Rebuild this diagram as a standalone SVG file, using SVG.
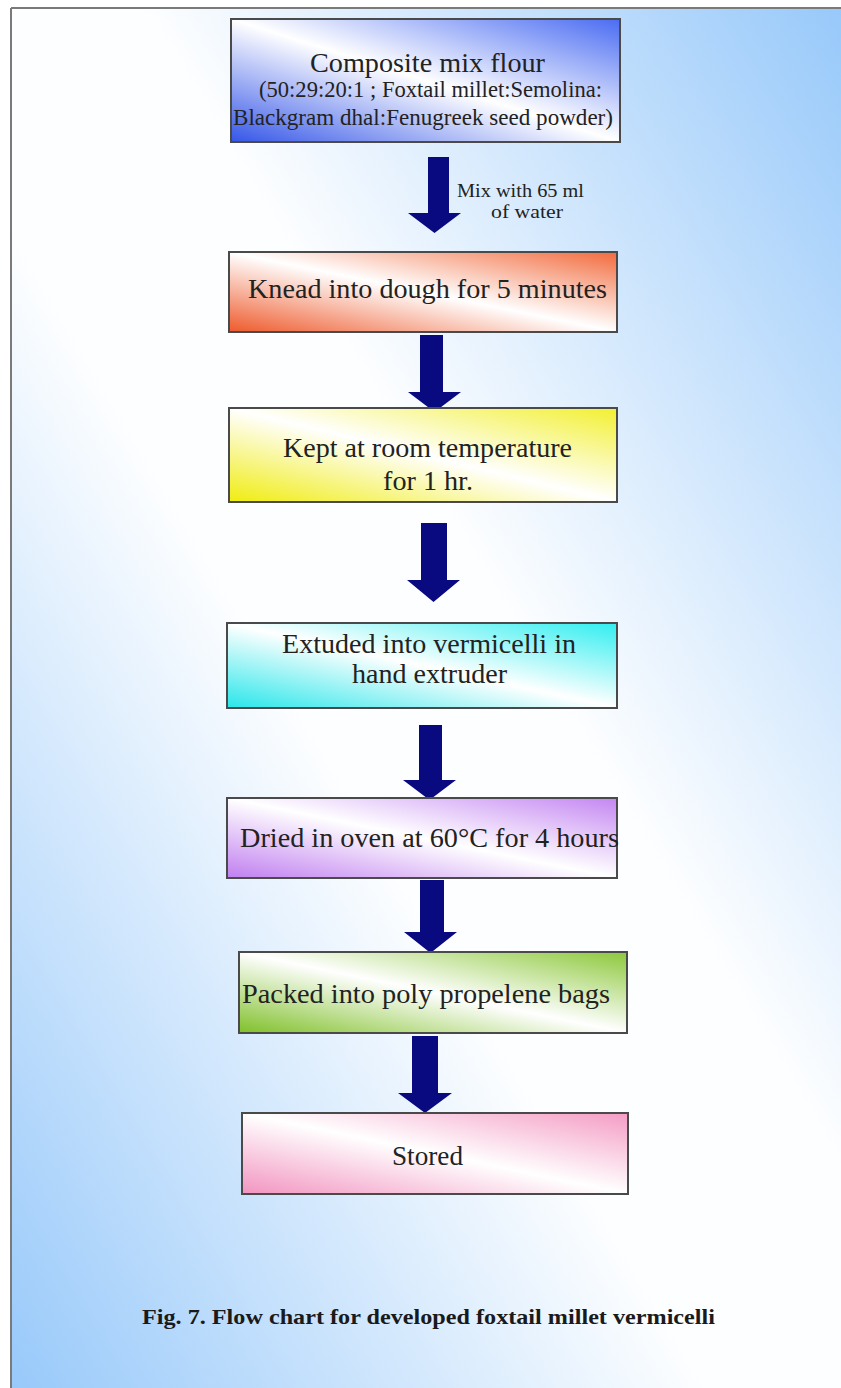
<svg xmlns="http://www.w3.org/2000/svg" width="841" height="1388" viewBox="0 0 841 1388">
<defs>
<linearGradient id="bg" x1="1" y1="0" x2="0" y2="1">
<stop offset="0" stop-color="#98c9fa"/>
<stop offset="0.42" stop-color="#fdfeff"/>
<stop offset="0.58" stop-color="#fdfeff"/>
<stop offset="1" stop-color="#98c9fa"/>
</linearGradient>
<linearGradient id="gBlue" x1="1" y1="0" x2="0" y2="1">
<stop offset="0" stop-color="#4a6cf2"/><stop offset="0.5" stop-color="#ffffff"/><stop offset="1" stop-color="#3556e8"/>
</linearGradient>
<linearGradient id="gOrange" x1="1" y1="0" x2="0" y2="1">
<stop offset="0" stop-color="#f26a3c"/><stop offset="0.5" stop-color="#ffffff"/><stop offset="1" stop-color="#ee5a2c"/>
</linearGradient>
<linearGradient id="gYellow" x1="1" y1="0" x2="0" y2="1">
<stop offset="0" stop-color="#f2f030"/><stop offset="0.5" stop-color="#ffffff"/><stop offset="1" stop-color="#f0ec10"/>
</linearGradient>
<linearGradient id="gCyan" x1="1" y1="0" x2="0" y2="1">
<stop offset="0" stop-color="#30eef0"/><stop offset="0.5" stop-color="#ffffff"/><stop offset="1" stop-color="#28e6ea"/>
</linearGradient>
<linearGradient id="gPurple" x1="1" y1="0" x2="0" y2="1">
<stop offset="0" stop-color="#c486f2"/><stop offset="0.5" stop-color="#ffffff"/><stop offset="1" stop-color="#c07ef0"/>
</linearGradient>
<linearGradient id="gGreen" x1="1" y1="0" x2="0" y2="1">
<stop offset="0" stop-color="#8cc83a"/><stop offset="0.5" stop-color="#ffffff"/><stop offset="1" stop-color="#80c02a"/>
</linearGradient>
<linearGradient id="gPink" x1="1" y1="0" x2="0" y2="1">
<stop offset="0" stop-color="#f49cc4"/><stop offset="0.5" stop-color="#ffffff"/><stop offset="1" stop-color="#f294c0"/>
</linearGradient>
<style>
.box{stroke:#4a4a4a;stroke-width:2}
.t{font-family:"Liberation Serif","Times New Roman",serif;font-size:28px;fill:#222;text-anchor:middle}
.s{font-size:23px}
.lbl{font-family:"Liberation Serif","Times New Roman",serif;font-size:19px;fill:#222}
.arr{fill:#0a0a80}
.cap{font-family:"Liberation Serif","Times New Roman",serif;font-size:22px;font-weight:bold;fill:#1a1a1a}
</style>
</defs>
<rect x="0" y="0" width="841" height="1388" fill="#ffffff"/>
<rect x="11" y="8" width="830" height="1380" fill="url(#bg)"/>
<line x1="11" y1="8" x2="841" y2="8" stroke="#7a7a7a" stroke-width="2"/>
<line x1="11" y1="8" x2="11" y2="1388" stroke="#7a7a7a" stroke-width="2"/>

<g id="connectors">
<path class="arr" d="M428,157 H449 V213 H461 L434.5,233 L408,213 H428 Z"/>
<path class="arr" d="M420,335 H443 V392 H461 L434.5,412 L408,392 H420 Z"/>
<path class="arr" d="M421,523 H447 V580 H460 L433.5,602 L407,580 H421 Z"/>
<path class="arr" d="M419,725 H442 V780 H456 L429.5,800 L403,780 H419 Z"/>
<path class="arr" d="M420,880 H444 V932 H457 L430.5,953 L404,932 H420 Z"/>
<path class="arr" d="M412,1036 H438 V1093 H452 L425,1113 L398,1093 H412 Z"/>
<text class="lbl" x="457" y="197" textLength="127" lengthAdjust="spacingAndGlyphs">Mix with 65 ml</text>
<text class="lbl" x="491" y="218" textLength="72" lengthAdjust="spacingAndGlyphs">of water</text>
</g>

<g id="node1">
<rect class="box" x="231" y="19" width="389" height="123" fill="url(#gBlue)"/>
<text class="t" x="427.5" y="72" textLength="235" lengthAdjust="spacingAndGlyphs">Composite mix flour</text>
<text class="t s" x="430.5" y="97" textLength="343" lengthAdjust="spacingAndGlyphs">(50:29:20:1 ; Foxtail millet:Semolina:</text>
<text class="t s" x="423" y="125" textLength="380" lengthAdjust="spacingAndGlyphs">Blackgram dhal:Fenugreek seed powder)</text>
</g>
<g id="node2">
<rect class="box" x="229" y="252" width="388" height="80" fill="url(#gOrange)"/>
<text class="t" x="427.5" y="298" textLength="359" lengthAdjust="spacingAndGlyphs">Knead into dough for 5 minutes</text>
</g>
<g id="node3">
<rect class="box" x="229" y="408" width="388" height="94" fill="url(#gYellow)"/>
<text class="t" x="427.5" y="457" textLength="289" lengthAdjust="spacingAndGlyphs">Kept at room temperature</text>
<text class="t" x="428" y="490" textLength="90" lengthAdjust="spacingAndGlyphs">for 1 hr.</text>
</g>
<g id="node4">
<rect class="box" x="227" y="623" width="390" height="85" fill="url(#gCyan)"/>
<text class="t" x="429" y="653" textLength="294" lengthAdjust="spacingAndGlyphs">Extuded into vermicelli in</text>
<text class="t" x="429.5" y="683" textLength="155" lengthAdjust="spacingAndGlyphs">hand extruder</text>
</g>
<g id="node5">
<rect class="box" x="227" y="798" width="390" height="80" fill="url(#gPurple)"/>
<text class="t" x="429.5" y="847" textLength="379" lengthAdjust="spacingAndGlyphs">Dried in oven at 60°C for 4 hours</text>
</g>
<g id="node6">
<rect class="box" x="239" y="952" width="388" height="81" fill="url(#gGreen)"/>
<text class="t" x="426" y="1003" textLength="368" lengthAdjust="spacingAndGlyphs">Packed into poly propelene bags</text>
</g>
<g id="node7">
<rect class="box" x="242" y="1113" width="386" height="81" fill="url(#gPink)"/>
<text class="t" x="427.5" y="1165" textLength="71" lengthAdjust="spacingAndGlyphs">Stored</text>
</g>

<text class="cap" x="142" y="1324" textLength="573" lengthAdjust="spacingAndGlyphs">Fig. 7. Flow chart for developed foxtail millet vermicelli</text>
</svg>
